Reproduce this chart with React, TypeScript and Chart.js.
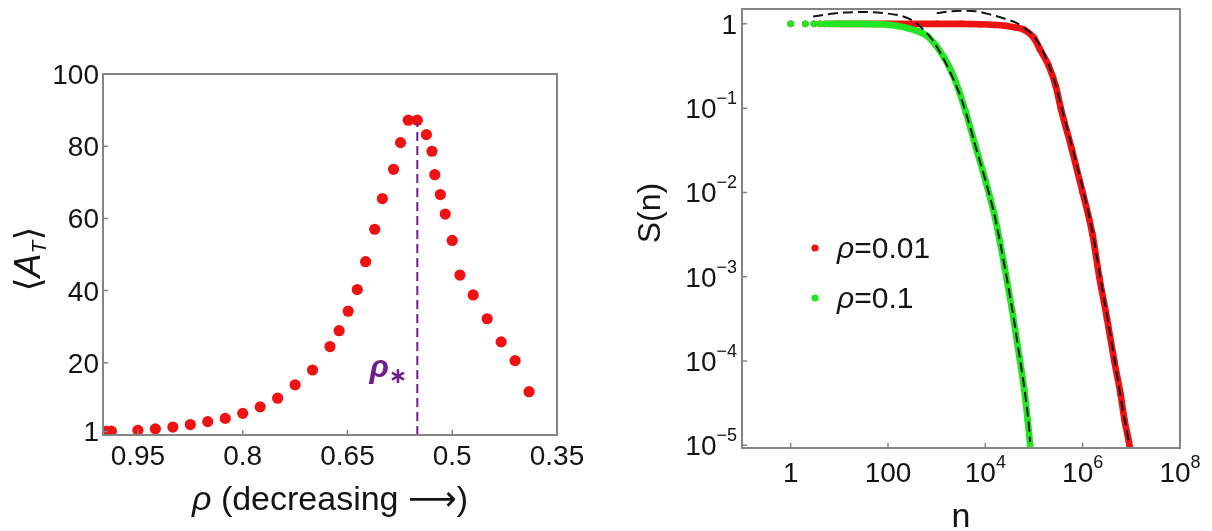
import React, { useEffect, useRef } from "react";
import { Chart, registerables } from "chart.js";

Chart.register(...registerables);

const FONT = '"Liberation Sans", Arial, Helvetica, "DejaVu Sans", sans-serif';
const MATH = '"DejaVu Sans", "Liberation Sans", sans-serif';
const TEXT = "#141414";
const FRAME = "#858585";
const RED = "#f01212";
const GREEN = "#22e622";
const PURPLE = "#6e1f8e";

// ---------------- left panel data ----------------
const rhoValues = [0.995, 0.988, 0.95, 0.925, 0.9, 0.875, 0.85, 0.825, 0.8, 0.775, 0.75, 0.725, 0.7, 0.675, 0.662, 0.649, 0.636, 0.624, 0.611, 0.6, 0.584, 0.574, 0.563, 0.55, 0.537, 0.529, 0.525, 0.517, 0.51, 0.5, 0.489, 0.47, 0.45, 0.43, 0.41, 0.39];
const meanAT = [1.0, 1.05, 1.3, 1.7, 2.2, 2.9, 3.7, 4.6, 6.0, 7.8, 10.2, 13.9, 18.0, 24.5, 28.9, 34.3, 40.3, 48.0, 57.0, 65.5, 73.6, 81.0, 87.2, 87.2, 83.2, 78.6, 72.1, 66.6, 61.2, 53.9, 44.3, 38.8, 32.2, 25.8, 20.6, 12.0];
const rhoStar = 0.55;
const rhoStarTop = 86.5;
const rhoTicks = [0.95, 0.8, 0.65, 0.5, 0.35];
const rhoTickLabels = ["0.95", "0.8", "0.65", "0.5", "0.35"];
const atTicks = [1, 20, 40, 60, 80, 100];
const atTickLabels = ["1", "20", "40", "60", "80", "100"];

// ---------------- right panel data ----------------
const greenHeadN = [1, 2, 3, 4, 5, 6, 7, 8, 9];
const greenHeadS = [1, 1, 1, 1, 1, 1, 1, 1, 1];
const greenBandN = [10, 32, 63, 100, 158, 251, 398, 631, 1000, 1413, 1995, 2818, 3981, 6310, 10000, 15849, 25119, 35481, 50119, 63096, 74131, 83176];
const greenBandS = [1.0, 1.0, 0.99, 0.975, 0.94, 0.89, 0.82, 0.72, 0.54, 0.4, 0.275, 0.166, 0.089, 0.035, 0.014, 0.005, 0.00126, 0.0004, 0.000112, 0.000045, 0.00002, 0.00001];
const redHeadN = [1, 2, 3, 4, 5, 6, 7, 8, 9];
const redHeadS = [1, 1, 1, 1, 1, 1, 1, 1, 1];
const redBandN = [10, 100, 1000, 3162, 7943, 15849, 25119, 39811, 63096, 100000, 131826, 199526, 281838, 354813, 602560, 1000000, 1585000, 2188000, 3162000, 4467000, 6026000, 7244000, 8913000, 9300000];
const redBandS = [1, 1, 1, 1, 0.99, 0.97, 0.95, 0.91, 0.85, 0.68, 0.5, 0.32, 0.18, 0.1, 0.032, 0.01, 0.0032, 0.001, 0.00032, 0.0001, 0.00004, 0.00002, 0.000011, 0.0000095];
const greenFitN = [2.9, 6.3, 12.6, 31.6, 79.4, 158, 209, 316, 537, 794, 1000, 1585, 2818, 3981, 6310, 10000, 15849, 25119, 35481, 50119, 66069, 79433, 83176];
const greenFitS = [1.22, 1.31, 1.36, 1.38, 1.34, 1.27, 1.22, 1.1, 0.85, 0.66, 0.54, 0.33, 0.158, 0.089, 0.035, 0.014, 0.005, 0.0013, 0.00042, 0.000117, 0.00004, 0.000016, 0.000011];
const redFitN = [1000, 1995, 3548, 6310, 12589, 25119, 44668, 70795, 100000, 141254, 199526, 281838, 371535, 630957, 1047000, 1585000, 2291000, 3162000, 4571000, 6310000, 8900000];
const redFitS = [1.34, 1.41, 1.43, 1.41, 1.29, 1.15, 1.02, 0.85, 0.71, 0.52, 0.33, 0.186, 0.1, 0.032, 0.01, 0.0035, 0.001, 0.00035, 0.0001, 0.000032, 0.000011];
const nTicks = [1, 100, 1e4, 1e6, 1e8];
const nTickBase = ["1", "100", "10", "10", "10"];
const nTickExp = ["", "", "4", "6", "8"];
const sTicks = [1, 0.1, 0.01, 0.001, 0.0001, 0.00001];
const sTickBase = ["1", "10", "10", "10", "10", "10"];
const sTickExp = ["", "\u22121", "\u22122", "\u22123", "\u22124", "\u22125"];
const legendValues = ["0.01", "0.1"];
const legendColors = [RED, GREEN];

// ---------------- helpers ----------------
type Run = { t: string; f: string; dy?: number; c?: string };

function richWidth(ctx: CanvasRenderingContext2D, runs: Run[]) {
  let w = 0;
  for (const r of runs) {
    ctx.font = r.f;
    w += ctx.measureText(r.t).width;
  }
  return w;
}

function drawRich(ctx: CanvasRenderingContext2D, runs: Run[], x: number, y: number, align: "left" | "center" | "right") {
  const w = richWidth(ctx, runs);
  let cx = align === "left" ? x : align === "center" ? x - w / 2 : x - w;
  ctx.textAlign = "left";
  ctx.textBaseline = "alphabetic";
  for (const r of runs) {
    ctx.font = r.f;
    ctx.fillStyle = r.c || TEXT;
    ctx.fillText(r.t, cx, y + (r.dy || 0));
    cx += ctx.measureText(r.t).width;
  }
}

function supRuns(base: string, exp: string): Run[] {
  const runs: Run[] = [{ t: base, f: `28px ${FONT}` }];
  if (exp) runs.push({ t: exp, f: `18px ${FONT}`, dy: -14 });
  return runs;
}

function toXY(xs: number[], ys: number[]) {
  return xs.map((x, i) => ({ x, y: ys[i] }));
}

function fixedTicks(values: number[]) {
  return (scale: any) => {
    scale.ticks = values.map((v) => ({ value: v }));
  };
}

// ---------------- plugins ----------------
const leftDecor = {
  id: "leftDecor",
  afterDatasetsDraw(chart: any) {
    const { ctx, chartArea: a, scales } = chart;
    const xs = scales.x;
    const ys = scales.y;
    ctx.save();
    ctx.strokeStyle = FRAME;
    ctx.lineWidth = 2;
    ctx.strokeRect(a.left, a.top, a.right - a.left, a.bottom - a.top);
    ctx.lineWidth = 1.5;
    ctx.beginPath();
    rhoTicks.forEach((v) => {
      const px = xs.getPixelForValue(v);
      ctx.moveTo(px, a.bottom);
      ctx.lineTo(px, a.bottom - 5);
    });
    atTicks.forEach((v) => {
      const py = ys.getPixelForValue(v);
      ctx.moveTo(a.left, py);
      ctx.lineTo(a.left + 5, py);
    });
    ctx.stroke();

    rhoTicks.forEach((v, i) => {
      drawRich(ctx, [{ t: rhoTickLabels[i], f: `28px ${FONT}` }], xs.getPixelForValue(v), a.bottom + 30, "center");
    });
    atTicks.forEach((v, i) => {
      drawRich(ctx, [{ t: atTickLabels[i], f: `28px ${FONT}` }], a.left - 4, ys.getPixelForValue(v) + 10, "right");
    });

    // x title
    drawRich(
      ctx,
      [
        { t: "\u03c1", f: `italic 34px ${FONT}` },
        { t: " (decreasing ", f: `34px ${FONT}` },
        { t: "\u27f6", f: `34px ${MATH}` },
        { t: ")", f: `34px ${FONT}` },
      ],
      (a.left + a.right) / 2,
      510,
      "center"
    );

    // y title, rotated
    ctx.save();
    ctx.translate(27, 259);
    ctx.rotate(-Math.PI / 2);
    drawRich(
      ctx,
      [
        { t: "\u27e8", f: `36px ${MATH}` },
        { t: "A", f: `italic 36px ${FONT}` },
        { t: "T", f: `italic 21px ${FONT}`, dy: 6 },
        { t: "\u27e9", f: `36px ${MATH}` },
      ],
      0,
      13,
      "center"
    );
    ctx.restore();

    // rho_* annotation
    const lx = xs.getPixelForValue(rhoStar);
    drawRich(
      ctx,
      [
        { t: "\u03c1", f: `italic bold 32px ${FONT}`, c: PURPLE },
        { t: "\u2217", f: `bold 22px ${MATH}`, c: PURPLE, dy: 6 },
      ],
      lx - 10,
      377,
      "right"
    );
    ctx.restore();
  },
};

const rightDecor = {
  id: "rightDecor",
  afterDatasetsDraw(chart: any) {
    const { ctx, chartArea: a, scales } = chart;
    const xs = scales.x;
    const ys = scales.y;
    ctx.save();
    ctx.strokeStyle = FRAME;
    ctx.lineWidth = 2;
    ctx.strokeRect(a.left, a.top, a.right - a.left, a.bottom - a.top);
    ctx.lineWidth = 1.5;
    ctx.beginPath();
    nTicks.forEach((v) => {
      const px = xs.getPixelForValue(v);
      ctx.moveTo(px, a.bottom);
      ctx.lineTo(px, a.bottom - 5);
    });
    sTicks.forEach((v) => {
      const py = ys.getPixelForValue(v);
      ctx.moveTo(a.left, py);
      ctx.lineTo(a.left + 5, py);
    });
    ctx.stroke();

    nTicks.forEach((v, i) => {
      drawRich(ctx, supRuns(nTickBase[i], nTickExp[i]), xs.getPixelForValue(v), a.bottom + 34, "center");
    });
    sTicks.forEach((v, i) => {
      drawRich(ctx, supRuns(sTickBase[i], sTickExp[i]), a.left - 5, ys.getPixelForValue(v) + 10, "right");
    });

    // x title
    drawRich(ctx, [{ t: "n", f: `34px ${FONT}` }], (a.left + a.right) / 2, 527, "center");

    // y title
    ctx.save();
    ctx.translate(48, 213);
    ctx.rotate(-Math.PI / 2);
    drawRich(ctx, [{ t: "S(n)", f: `32px ${FONT}` }], 0, 12, "center");
    ctx.restore();

    // legend
    legendValues.forEach((val, i) => {
      const cy = 248 + i * 50;
      ctx.beginPath();
      ctx.fillStyle = legendColors[i];
      ctx.arc(215, cy, 3.6, 0, Math.PI * 2);
      ctx.fill();
      drawRich(
        ctx,
        [
          { t: "\u03c1", f: `italic 30px ${FONT}` },
          { t: "=" + val, f: `30px ${FONT}` },
        ],
        237,
        cy + 10,
        "left"
      );
    });
    ctx.restore();
  },
};

// ---------------- configs ----------------
function leftConfig(): any {
  return {
    type: "scatter",
    data: {
      datasets: [
        {
          data: [
            { x: rhoStar, y: 0 },
            { x: rhoStar, y: rhoStarTop },
          ],
          showLine: true,
          borderColor: PURPLE,
          borderWidth: 2,
          borderDash: [9, 5],
          pointRadius: 0,
        },
        {
          data: toXY(rhoValues, meanAT),
          showLine: false,
          pointRadius: 5.6,
          pointBackgroundColor: RED,
          pointBorderWidth: 0,
        },
      ],
    },
    options: {
      animation: false,
      responsive: false,
      maintainAspectRatio: false,
      layout: { padding: { left: 0, right: 43, top: 74, bottom: 0 } },
      plugins: { legend: { display: false }, tooltip: { enabled: false } },
      scales: {
        x: {
          type: "linear",
          reverse: true,
          min: 0.35,
          max: 1.0,
          grid: { display: false },
          border: { display: false },
          ticks: { display: false },
          afterBuildTicks: fixedTicks(rhoTicks),
          afterFit: (s: any) => {
            s.height = 96;
          },
        },
        y: {
          type: "linear",
          min: 0,
          max: 100,
          grid: { display: false },
          border: { display: false },
          ticks: { display: false },
          afterBuildTicks: fixedTicks(atTicks),
          afterFit: (s: any) => {
            s.width = 103;
          },
        },
      },
    },
    plugins: [leftDecor],
  };
}

function rightConfig(): any {
  const band = (color: string) => ({
    showLine: true,
    borderColor: color,
    borderWidth: 6.6,
    borderCapStyle: "round",
    borderJoinStyle: "round",
    cubicInterpolationMode: "monotone",
    pointRadius: 3.3,
    pointBackgroundColor: color,
    pointBorderWidth: 0,
  });
  const dots = (color: string) => ({
    showLine: false,
    pointRadius: 3.4,
    pointBackgroundColor: color,
    pointBorderWidth: 0,
  });
  const fit = {
    showLine: true,
    borderColor: "#151515",
    borderWidth: 2,
    borderDash: [10, 5],
    cubicInterpolationMode: "monotone",
    pointRadius: 0,
  };
  return {
    type: "scatter",
    data: {
      datasets: [
        { ...fit, data: toXY(greenFitN, greenFitS) },
        { ...fit, data: toXY(redFitN, redFitS) },
        { ...dots(GREEN), data: toXY(greenHeadN, greenHeadS) },
        { ...band(GREEN), data: toXY(greenBandN, greenBandS) },
        { ...dots(RED), data: toXY(redHeadN, redHeadS) },
        { ...band(RED), data: toXY(redBandN, redBandS) },
      ],
    },
    options: {
      animation: false,
      responsive: false,
      maintainAspectRatio: false,
      layout: { padding: { left: 0, right: 32, top: 9, bottom: 0 } },
      plugins: { legend: { display: false }, tooltip: { enabled: false } },
      scales: {
        x: {
          type: "logarithmic",
          min: 0.1,
          max: 1e8,
          grid: { display: false },
          border: { display: false },
          ticks: { display: false },
          afterBuildTicks: fixedTicks(nTicks),
          afterFit: (s: any) => {
            s.height = 83;
          },
        },
        y: {
          type: "logarithmic",
          min: 9.3e-6,
          max: 1.5,
          grid: { display: false },
          border: { display: false },
          ticks: { display: false },
          afterBuildTicks: fixedTicks(sTicks),
          afterFit: (s: any) => {
            s.width = 142;
          },
        },
      },
    },
    plugins: [rightDecor],
  };
}

export default function App() {
  const leftRef = useRef<HTMLCanvasElement>(null);
  const rightRef = useRef<HTMLCanvasElement>(null);
  useEffect(() => {
    const left = new Chart(leftRef.current as HTMLCanvasElement, leftConfig());
    const right = new Chart(rightRef.current as HTMLCanvasElement, rightConfig());
    return () => {
      left.destroy();
      right.destroy();
    };
  }, []);
  return (
    <div style={{ position: "absolute", left: 0, top: 0, width: 1212, height: 531, background: "#fff", overflow: "hidden" }}>
      <canvas ref={leftRef} width={600} height={531} style={{ position: "absolute", left: 0, top: 0, width: 600, height: 531 }} />
      <canvas ref={rightRef} width={612} height={531} style={{ position: "absolute", left: 600, top: 0, width: 612, height: 531 }} />
    </div>
  );
}
